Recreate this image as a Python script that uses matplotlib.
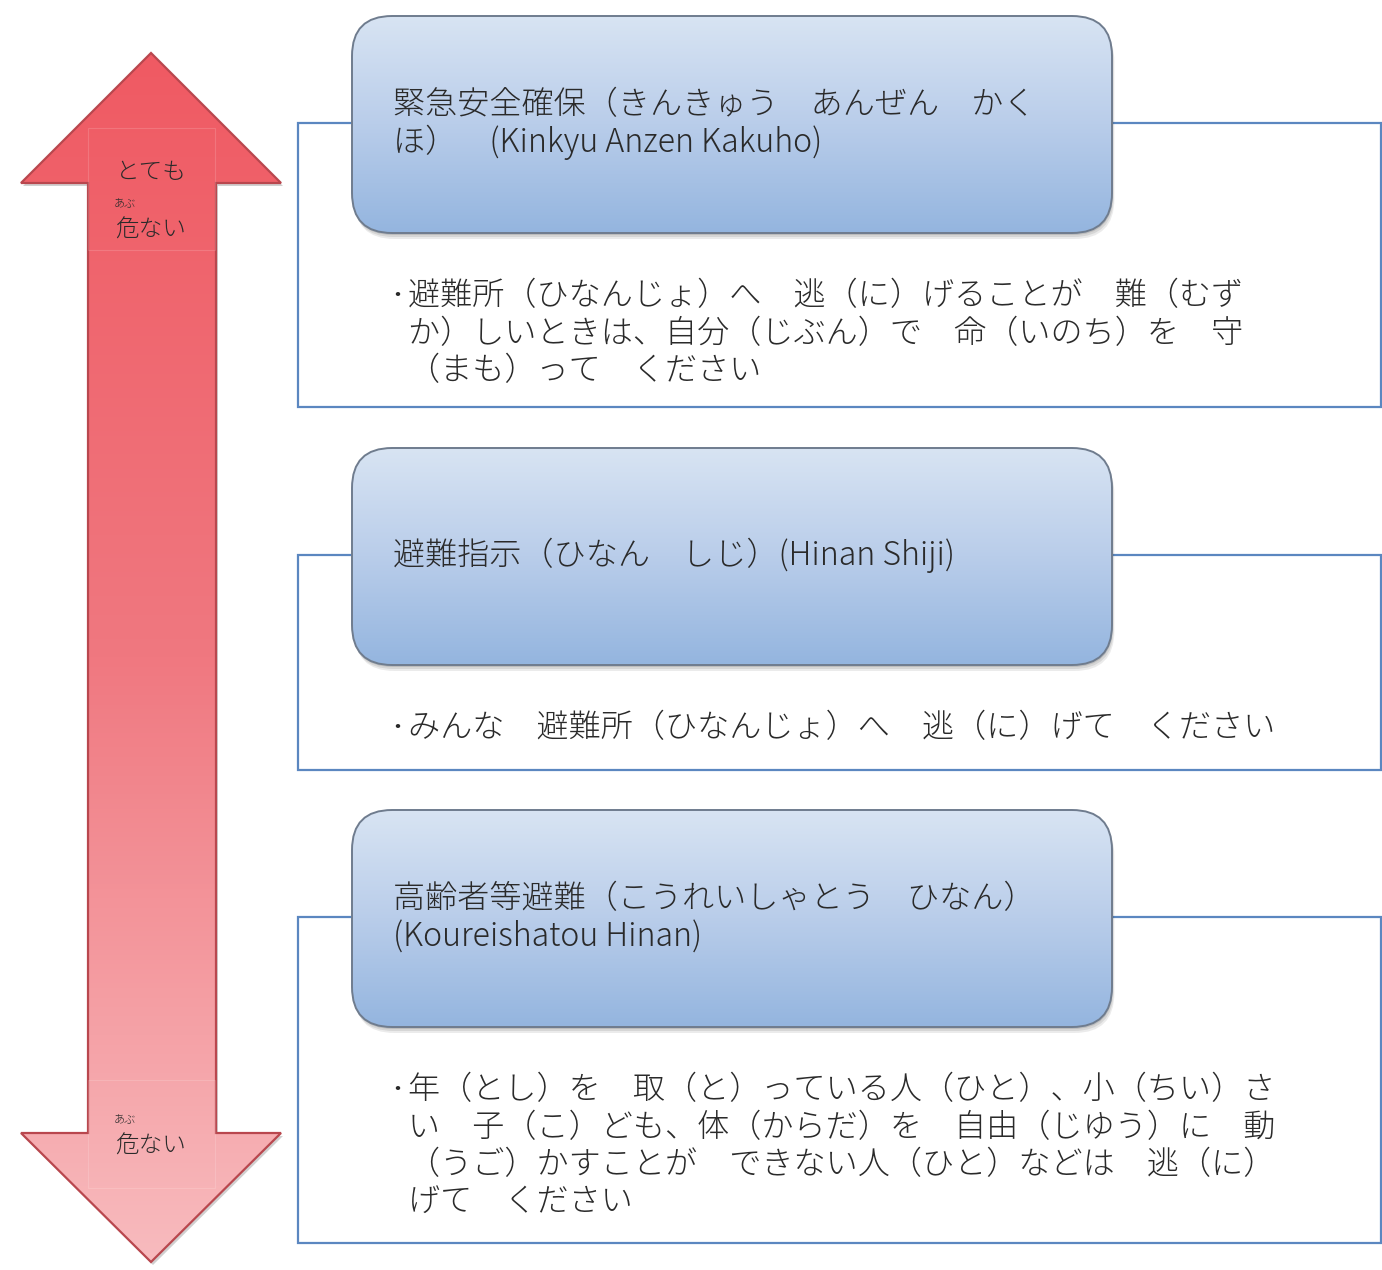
import numpy as np
import matplotlib.pyplot as plt
from matplotlib.patches import Polygon, Rectangle, FancyBboxPatch
from matplotlib.colors import LinearSegmentedColormap

plt.rcParams['font.family'] = ['Noto Sans CJK JP', 'DejaVu Sans']

# 避難情報のレベル（上から危険度が高い順）
titles = [
    ["緊急安全確保（きんきゅう　あんぜん　かく", "ほ）　(Kinkyu Anzen Kakuho)"],
    ["避難指示（ひなん　しじ）(Hinan Shiji)"],
    ["高齢者等避難（こうれいしゃとう　ひなん）", "(Koureishatou Hinan)"],
]
bodies = [
    ["避難所（ひなんじょ）へ　逃（に）げることが　難（むず",
     "か）しいときは、自分（じぶん）で　命（いのち）を　守",
     "（まも）って　ください"],
    ["みんな　避難所（ひなんじょ）へ　逃（に）げて　ください"],
    ["年（とし）を　取（と）っている人（ひと）、小（ちい）さ",
     "い　子（こ）ども、体（からだ）を　自由（じゆう）に　動",
     "（うご）かすことが　できない人（ひと）などは　逃（に）",
     "げて　ください"],
]
arrow_top_label = "とても"
arrow_label = "危ない"
arrow_ruby = "あぶ"

# レイアウト（ピクセル座標）
box_tops = [16, 448, 810]
box_h = 217
frame_tops = [123, 555, 917]
frame_bottoms = [407, 770, 1243]
title_y = [[105, 142], [555], [899, 937]]
body_y0 = [296, 728, 1090]
line_h = 37.3

W, H = 1382, 1270
fig = plt.figure(figsize=(W / 100, H / 100), dpi=100)
ax = fig.add_axes([0, 0, 1, 1])
ax.set_xlim(0, W)
ax.set_ylim(H, 0)
ax.axis('off')

txt_col = '#2a2a2a'
fs = 23.1
title_fam = ['Liberation Sans Narrow', 'Noto Sans CJK JP', 'DejaVu Sans']

# 両方向の矢印
pts = [(151, 53), (281, 183), (216, 183), (216, 1133), (281, 1133),
       (151, 1262), (21, 1133), (88, 1133), (88, 183), (21, 183)]
shadow = Polygon([(x + 2, y + 3) for x, y in pts], closed=True,
                 facecolor='#7a7a7a', edgecolor='none', alpha=0.35, zorder=1)
ax.add_patch(shadow)
arrow = Polygon(pts, closed=True, facecolor='none', edgecolor='#b9474e',
                lw=1.6, zorder=3)
ax.add_patch(arrow)
cm_red = LinearSegmentedColormap.from_list('r', ['#ef5a63', '#f07880', '#f8bbbe'])
grad = np.linspace(0, 1, 256).reshape(-1, 1)
im = ax.imshow(grad, cmap=cm_red, extent=[21, 281, 1262, 53], aspect='auto',
               zorder=2)
im.set_clip_path(arrow)

# 矢印の中の文字枠（うすい）
for (y0, y1) in [(128, 250), (1080, 1188)]:
    ax.add_patch(Rectangle((88, y0), 127, y1 - y0, facecolor='none',
                           edgecolor='white', lw=0.8, alpha=0.15, zorder=4))

ax.text(151, 172, arrow_top_label, fontsize=17, color=txt_col,
        ha='center', va='center', zorder=5, fontweight='light')
ax.text(114, 204, arrow_ruby, fontsize=8, color=txt_col,
        ha='left', va='center', zorder=5, fontweight='light')
ax.text(151, 230, arrow_label, fontsize=17, color=txt_col,
        ha='center', va='center', zorder=5, fontweight='light')
ax.text(114, 1120, arrow_ruby, fontsize=8, color=txt_col,
        ha='left', va='center', zorder=5, fontweight='light')
ax.text(151, 1146, arrow_label, fontsize=17, color=txt_col,
        ha='center', va='center', zorder=5, fontweight='light')

cm_blue = LinearSegmentedColormap.from_list('b', ['#d8e4f3', '#b9cdea', '#94b5df'])

for i in range(len(titles)):
    # 外枠
    ax.add_patch(Rectangle((298, frame_tops[i]), 1083,
                           frame_bottoms[i] - frame_tops[i],
                           facecolor='white', edgecolor='#5b87c0', lw=1.6,
                           zorder=1))
    # 角丸ボックスの影
    for k, a in enumerate([0.10, 0.12, 0.16]):
        off = 6 - 2 * k
        ax.add_patch(FancyBboxPatch((352 + off * 0.4, box_tops[i] + off),
                                    760, box_h,
                                    boxstyle='round,pad=0,rounding_size=40',
                                    facecolor='#404040', edgecolor='none',
                                    alpha=a, zorder=2))
    box = FancyBboxPatch((352, box_tops[i]), 760, box_h,
                         boxstyle='round,pad=0,rounding_size=40',
                         facecolor='none', edgecolor='#6f7c8e', lw=1.4,
                         zorder=4)
    ax.add_patch(box)
    bim = ax.imshow(grad, cmap=cm_blue,
                    extent=[352, 1112, box_tops[i] + box_h, box_tops[i]],
                    aspect='auto', zorder=3)
    bim.set_clip_path(box)

    for line, y in zip(titles[i], title_y[i]):
        ax.text(393, y, line, fontsize=fs, color=txt_col, ha='left',
                va='center', zorder=5, family=title_fam, fontweight='light')

    ax.text(385, body_y0[i], "・", fontsize=fs * 0.75, color=txt_col,
            ha='left', va='center', zorder=5, fontweight='light')
    for j, line in enumerate(bodies[i]):
        ax.text(408, body_y0[i] + j * line_h, line, fontsize=fs,
                color=txt_col, ha='left', va='center', zorder=5,
                fontweight='light')

fig.savefig('out.png', dpi=100, facecolor='white')
